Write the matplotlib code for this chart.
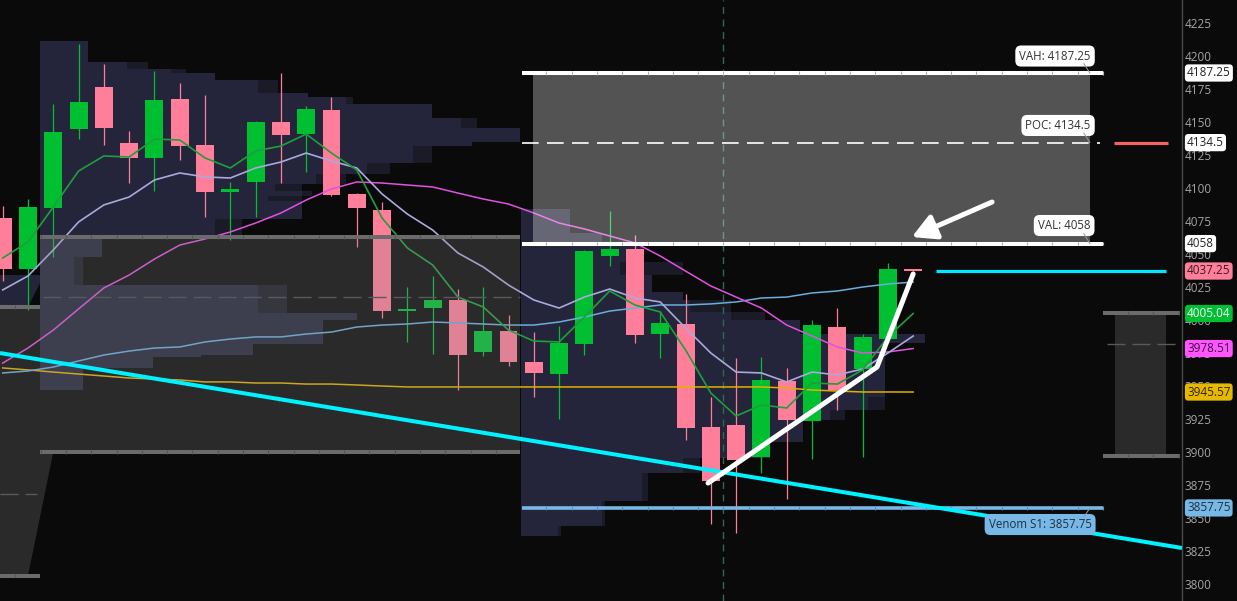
import matplotlib
matplotlib.use('Agg')
import matplotlib.pyplot as plt
from matplotlib.patches import Rectangle, Polygon, FancyArrowPatch
import matplotlib.transforms as mtransforms
import numpy as np

plt.rcParams['font.family'] = ['Open Sans', 'DejaVu Sans']

# ---------------- data ----------------
opens  = [4077.4, 4038.8, 4085.0, 4144.8, 4176.6, 4134.2, 4122.9, 4167.5, 4132.7, 4097.1,
          4104.6, 4150.1, 4141.0, 4159.2, 4095.6, 4083.5, 4006.9, 4009.2, 4015.3, 3975.9,
          3991.8, 3968.3, 3959.2, 3981.9, 4048.6, 4053.9, 3989.5, 3997.1, 3919.1, 3920.6,
          3896.3, 3953.9, 3923.6, 3994.8, 3963.0, 3985.7, 4038.8]
highs  = [4086.5, 4091.8, 4163.8, 4209.2, 4194.1, 4143.3, 4188.8, 4179.7, 4170.6, 4104.6,
          4150.9, 4187.3, 4162.2, 4169.1, 4096.3, 4089.5, 4025.1, 4033.5, 4023.6, 4025.1,
          4003.9, 3991.0, 3995.6, 4053.2, 4082.7, 4064.5, 4006.9, 4019.8, 3941.8, 3971.3,
          3972.1, 3963.8, 4000.1, 4009.2, 3989.5, 4043.3, 4038.8]
lows   = [4029.7, 4007.7, 4047.9, 4137.2, 4132.7, 4103.9, 4097.9, 4121.3, 4078.2, 4060.7,
          4078.2, 4103.9, 4112.2, 4094.1, 4055.4, 4001.6, 3983.5, 3974.4, 3947.1, 3972.9,
          3965.3, 3941.8, 3925.1, 3973.6, 4041.0, 3982.7, 3971.3, 3909.2, 3845.6, 3838.8,
          3884.2, 3864.5, 3894.8, 3931.9, 3896.3, 3985.7, 4037.25]
closes = [4038.8, 4085.7, 4142.5, 4165.3, 4145.6, 4122.9, 4166.8, 4131.9, 4097.1, 4099.4,
          4150.1, 4140.3, 4160.0, 4094.8, 4085.0, 4006.9, 4008.5, 4015.3, 3973.6, 3991.8,
          3968.3, 3960.0, 3982.7, 4052.4, 4053.9, 3988.8, 3997.9, 3918.3, 3878.2, 3894.1,
          3954.7, 3924.4, 3996.3, 3947.1, 3987.2, 4038.8, 4037.25]

ma_green = [4047.1, 4059.2, 4085.7, 4113.0, 4124.4, 4123.6, 4137.2, 4136.5, 4122.9, 4115.3,
            4128.2, 4131.9, 4141.0, 4126.6, 4113.8, 4077.4, 4054.7, 4041.8, 4017.5, 4010.0,
            3992.5, 3984.2, 3983.5, 4002.4, 4022.1, 4011.5, 4006.2, 3977.4, 3944.8, 3927.4,
            3935.7, 3933.5, 3952.4, 3951.6, 3962.3, 3987.3, 4005.04]
ma_lav = [4022.9, 4033.5, 4053.2, 4074.4, 4087.3, 4093.3, 4106.2, 4111.5, 4108.5, 4107.7,
          4115.3, 4119.8, 4126.6, 4120.6, 4115.3, 4095.6, 4080.4, 4068.3, 4050.9, 4040.3,
          4026.6, 4015.3, 4009.2, 4017.5, 4023.6, 4016.8, 4013.8, 3994.1, 3975.1, 3960.7,
          3960.0, 3953.2, 3960.7, 3958.5, 3963.0, 3975.1, 3988.0]
ma_mag = [3967.5, 3978.9, 3992.5, 4008.5, 4024.4, 4034.2, 4046.3, 4056.9, 4061.5, 4066.8,
          4073.6, 4081.2, 4091.0, 4099.4, 4104.7, 4103.9, 4102.4, 4100.9, 4096.3, 4091.8,
          4088.0, 4081.2, 4073.6, 4069.1, 4063.8, 4058.5, 4048.6, 4037.2, 4025.9, 4017.5,
          4009.2, 3996.3, 3988.0, 3979.7, 3975.1, 3975.9, 3978.51]
ma_blue = [3960.0, 3961.5, 3964.5, 3969.1, 3973.6, 3976.6, 3978.9, 3979.7, 3983.5, 3985.7,
           3987.3, 3987.3, 3989.5, 3991.0, 3994.8, 3996.3, 3997.1, 3998.6, 3997.9, 3997.1,
           3996.3, 3996.3, 3998.6, 4002.4, 4006.9, 4009.2, 4011.5, 4011.5, 4012.3, 4013.8,
           4016.8, 4017.5, 4020.6, 4022.1, 4025.1, 4027.4, 4028.9]
ma_gold = [3963.8, 3962.3, 3960.7, 3959.2, 3957.7, 3956.2, 3955.4, 3954.7, 3953.2, 3953.2,
           3952.4, 3952.4, 3951.6, 3951.6, 3950.9, 3950.1, 3949.4, 3949.4, 3949.4, 3949.4,
           3949.4, 3949.4, 3949.4, 3949.4, 3949.4, 3949.4, 3949.4, 3949.4, 3949.4, 3949.4,
           3949.4, 3948.6, 3947.1, 3946.3, 3945.6, 3945.6, 3945.57]

# volume profile rows: (low, high, length in bars, thin extension in bars)
left_prof_start = 1.475
left_prof = [
    (4195.6, 4211.5, 1.90, 0.00), (4190.3, 4195.6, 3.45, 0.83), (4187.25, 4190.3, 5.18, 0.60),
    (4181.9, 4187.25, 6.92, 0.00), (4172.1, 4181.9, 8.62, 0.80), (4169.1, 4172.1, 10.60, 0.00),
    (4163.8, 4169.1, 12.10, 0.28), (4153.2, 4163.8, 15.50, 0.00), (4145.6, 4153.2, 16.65, 0.63),
    (4135.0, 4145.6, 18.98, 0.00), (4131.9, 4135.0, 17.09, 0.00), (4119.0, 4131.9, 14.75, 0.75),
    (4110.7, 4119.0, 12.93, 0.91), (4103.2, 4110.7, 10.92, 1.18), (4097.9, 4103.2, 9.30, 1.06),
    (4094.1, 4097.9, 10.36, 0.40), (4090.3, 4094.1, 9.02, 1.34), (4076.6, 4090.3, 10.36, 0.00),
    (4063.0, 4076.6, 6.92, 1.07), (4047.8, 4063.0, 2.45, 0.00), (4026.6, 4047.8, 1.35, 0.36),
    (4005.4, 4026.6, 8.60, 1.15), (4000.1, 4005.4, 12.54, 0.00), (3981.9, 4000.1, 11.20, 0.00),
    (3973.6, 3981.9, 8.43, 0.00), (3972.1, 3973.6, 6.37, 0.00), (3963.8, 3972.1, 4.47, 0.00),
    (3947.1, 3963.8, 1.71, 0.00)]
right_prof_start = 20.49
right_prof = [
    (4066.0, 4084.2, 1.94, 0.00), (4058.5, 4066.0, 3.20, 0.00), (4044.1, 4058.5, 4.83, 0.00),
    (4034.2, 4044.1, 3.92, 2.49), (4021.3, 4034.2, 5.18, 0.00), (4015.3, 4021.3, 6.41, 0.00),
    (4006.2, 4015.3, 6.69, 1.62), (4000.1, 4006.2, 8.31, 1.34), (3989.5, 4000.1, 11.04, 0.00),
    (3982.7, 3989.5, 15.98, 0.00), (3972.1, 3982.7, 14.40, 0.00), (3941.8, 3972.1, 14.40, 0.00),
    (3931.9, 3941.8, 13.72, 0.67), (3924.4, 3931.9, 12.22, 0.60), (3907.7, 3924.4, 11.15, 0.00),
    (3895.6, 3907.7, 9.85, 0.00), (3884.2, 3895.6, 6.41, 0.67), (3863.0, 3884.2, 4.79, 0.25),
    (3844.1, 3863.0, 3.21, 0.12), (3836.5, 3844.1, 1.47, 0.10)]

vah, poc, val = 4187.25, 4134.5, 4058.0
venom_s1 = 3857.75
last_price = 4037.25
left_va_hi, left_va_lo, left_va_mid = 4063.0, 3900.1, 4017.6
prev_va_hi, prev_va_lo, prev_va_mid = 4010.0, 3806.5, 3868.3
small_hi, small_lo, small_mid = 4005.4, 3897.1, 3981.9
trend_x = [-0.107, 46.63]
trend_y = [3975.1, 3827.4]
swing_x = [27.89, 34.57, 36.0]
swing_y = [3876.6, 3964.5, 4035.0]
arrow_from = (39.12, 4089.5)
arrow_to = (35.95, 4063.0)
yticks = list(range(3800, 4226, 25))

# ---------------- figure ----------------
BG = '#0a0a0a'
NAVY = '#24253a'
NAVY_D = '#1b1b27'
GREEN = '#00c032'
PINK = '#ff7f9b'

fig = plt.figure(figsize=(12.37, 6.01), dpi=100, facecolor=BG)
ax = fig.add_axes([0, 0, 1182 / 1237, 1])
ax.set_facecolor(BG)
ax.set_xlim(-0.107, 46.63)
ax.set_ylim(3787.25, 4242.55)

# previous profile remnants
ax.add_patch(Polygon([(-0.107, 4034.2), (1.475, 4034.2), (1.475, 4028.0), (1.0, prev_va_hi),
                      (-0.107, prev_va_hi)], closed=True, fc=NAVY, ec='none', zorder=1))
ax.add_patch(Polygon([(-0.107, prev_va_hi), (1.475, prev_va_hi), (1.475, left_va_lo), (2.0, left_va_lo),
                      (1.0, prev_va_lo), (-0.107, prev_va_lo)], closed=True,
                     fc='#8a8a8a', alpha=0.25, ec='none', zorder=5))

# profiles
for lo, hi, ln, ext in left_prof:
    ax.add_patch(Rectangle((left_prof_start, lo), ln, hi - lo, fc=NAVY, ec='none', zorder=1))
    if ext > 0:
        ax.add_patch(Rectangle((left_prof_start + ln, lo), ext, hi - lo, fc=NAVY_D, ec='none', zorder=1))
for lo, hi, ln, ext in right_prof:
    ax.add_patch(Rectangle((right_prof_start, lo), ln, hi - lo, fc=NAVY, ec='none', zorder=1))
    if ext > 0:
        ax.add_patch(Rectangle((right_prof_start + ln, lo), ext, hi - lo, fc=NAVY_D, ec='none', zorder=1))

# candles
idx = np.arange(len(opens))
for i in idx:
    o, h, l, c = opens[i], highs[i], lows[i], closes[i]
    col = GREEN if c >= o else PINK
    ax.vlines(i, l, h, color=col, lw=0.9, zorder=3)
    bot = min(o, c)
    hgt = max(abs(c - o), 1.6)
    ax.add_patch(Rectangle((i - 0.355, bot), 0.71, hgt, fc=col, ec='none', zorder=3))

# moving averages
ax.plot(idx, ma_gold, color='#e0b000', lw=1.1, zorder=4)
ax.plot(idx, ma_blue, color='#6aaedc', lw=1.1, zorder=4)
ax.plot(idx, ma_mag, color='#e052e0', lw=1.1, zorder=4)
ax.plot(idx, ma_lav, color='#a9a9dc', lw=1.2, zorder=4)
ax.plot(idx, ma_green, color='#1f9e3c', lw=1.2, zorder=4)

# dashed vertical separator
ax.axvline(28.48, color='#2d6b50', lw=1, ls=(0, (5, 4)), zorder=2)

# overlay boxes
ax.add_patch(Rectangle((1.475, left_va_lo), 20.45 - 1.475, left_va_hi - left_va_lo,
                       fc='#8a8a8a', alpha=0.25, ec='none', zorder=5))
ax.add_patch(Rectangle((20.97, val), 42.99 - 20.97, vah - val, fc='white', alpha=0.3, ec='none', zorder=5))
ax.add_patch(Rectangle((43.98, small_lo), 2.02, small_hi - small_lo, fc='#8a8a8a', alpha=0.25,
                       ec='none', zorder=5))


def level_line(x0, x1, y, color, sep, lw=2.9, z=6):
    ax.hlines(y, x0, x1, color=color, lw=lw, zorder=z)
    seps = np.arange(np.ceil(x0 - 0.5) + 0.5, x1, 1.0)
    ax.vlines(seps, y - 1.3, y + 1.3, color=sep, lw=0.8, zorder=z + 0.1)


level_line(20.53, 43.51, vah, 'white', '#b4b4b4')
level_line(20.53, 43.51, val, 'white', '#b4b4b4')
level_line(20.53, 43.51, venom_s1, '#78b8e6', '#5a90b8', lw=2.6)
level_line(1.475, 20.45, left_va_hi, '#6b6b6b', '#555555', lw=2.9)
level_line(1.475, 20.45, left_va_lo, '#6b6b6b', '#555555', lw=2.9)
level_line(-0.2, 1.475, prev_va_hi, '#6b6b6b', '#555555', lw=2.9)
level_line(-0.2, 1.475, prev_va_lo, '#6b6b6b', '#555555', lw=2.9)
level_line(43.51, 46.55, small_hi, '#6b6b6b', '#555555', lw=2.9)
level_line(43.51, 46.55, small_lo, '#6b6b6b', '#555555', lw=2.9)

ax.hlines(poc, 20.53, 43.4, color='white', lw=1.2, ls=(0, (10, 5)), zorder=6)
ax.hlines(left_va_mid, 1.6, 20.45, color='#5a5a5a', lw=1.0, ls=(0, (13, 5)), zorder=6)
ax.hlines(prev_va_mid, -0.1, 1.35, color='#5a5a5a', lw=1.0, ls=(0, (13, 5)), zorder=6)
ax.hlines(small_mid, 43.66, 46.4, color='#5a5a5a', lw=1.0, ls=(0, (13, 5)), zorder=6)

# cyan lines, POC marker
ax.plot(trend_x, trend_y, color='#00f2ff', lw=2.9, zorder=7, solid_capstyle='butt')
ax.hlines(last_price, 36.9, 46.0, color='#00e8ff', lw=2.3, zorder=7)
ax.hlines(poc, 43.94, 46.08, color='#f06464', lw=2.3, zorder=7)

# white annotations
ax.plot(swing_x, swing_y, color='white', lw=3.6, solid_capstyle='round', solid_joinstyle='round', zorder=8)
arr = FancyArrowPatch(arrow_from, arrow_to, arrowstyle='-|>,head_length=1.1,head_width=0.6',
                      mutation_scale=13, lw=3.6, color='white', capstyle='round',
                      shrinkA=0, shrinkB=0, zorder=8)
ax.add_patch(arr)

# level labels
def level_label(x, y, txt, fc, tc, tail_y):
    ax.text(x, y, txt, ha='center', va='center', fontsize=8.3, color=tc, zorder=9,
            bbox=dict(boxstyle='round,pad=0.35,rounding_size=0.5', fc=fc, ec='none'))
    ax.plot([42.75, 42.99], [y - (y - tail_y) * 0.45, tail_y], color='#9a9a9a', lw=0.7, zorder=9)


level_label(41.61, 4200.1, 'VAH: 4187.25', 'white', '#333333', vah)
level_label(41.73, 4147.5, 'POC: 4134.5', 'white', '#333333', poc)
level_label(41.97, 4071.7, 'VAL: 4058', 'white', '#333333', val)
level_label(41.02, 3845.2, 'Venom S1: 3857.75', '#78b8e6', '#1f2f3f', venom_s1 - 0.2 * 0)

# axes styling
for s in ['top', 'left', 'bottom']:
    ax.spines[s].set_visible(False)
ax.spines['right'].set_color('#4a4a4a')
ax.spines['right'].set_linewidth(1.0)
ax.set_xticks([])
ax.yaxis.tick_right()
ax.set_yticks(yticks)
ax.set_yticklabels([str(t) for t in yticks])
ax.tick_params(axis='y', length=0, pad=2, labelsize=8.5, labelcolor='#a4a4a4')

# right price tags
blend = mtransforms.blended_transform_factory(ax.transAxes, ax.transData)
tags = [(vah, '4187.25', 'white', '#222222'),
        (poc, '4134.5', 'white', '#222222'),
        (val, '4058', 'white', '#222222'),
        (last_price, '4037.25', '#ff7f9b', '#3a1a20'),
        (ma_green[-1], '4005.04', '#00c032', 'white'),
        (ma_mag[-1], '3978.51', '#ff55ff', '#3a103a'),
        (ma_gold[-1], '3945.57', '#e6b800', '#332600'),
        (venom_s1, '3857.75', '#78b8e6', '#1f2f3f')]
for y, txt, fc, tc in tags:
    ax.text(1187 / 1182, y, txt, transform=blend, ha='left', va='center', fontsize=8.5, color=tc,
            zorder=10, clip_on=False,
            bbox=dict(boxstyle='round,pad=0.18,rounding_size=0.3', fc=fc, ec='none'))

fig.savefig('out.png', dpi=100, facecolor=BG)
